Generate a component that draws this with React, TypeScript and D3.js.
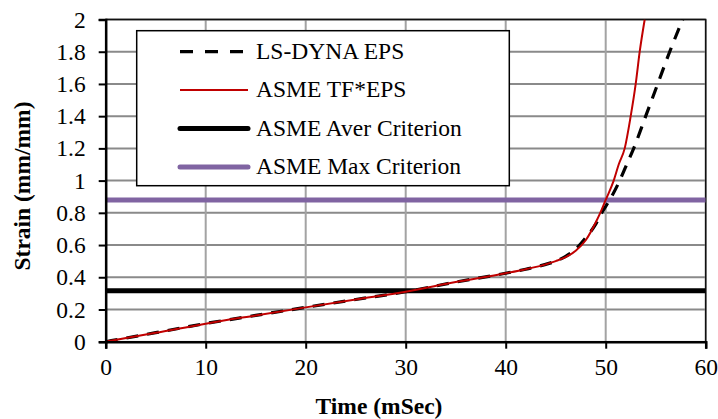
import React, { useEffect, useRef } from "react";
import * as d3 from "d3";

// time in mSec, strain in mm/mm
const lsDynaTime = [0, 5, 10, 15, 20, 25, 30, 35, 40, 42, 44, 45, 46, 47, 48, 49, 49.6, 50.4, 51.4, 52.1, 52.8, 54.0, 55.2, 56.4, 57.7];
const lsDynaStrain = [0, 0.056, 0.113, 0.163, 0.213, 0.262, 0.31, 0.37, 0.425, 0.45, 0.48, 0.5, 0.53, 0.575, 0.645, 0.73, 0.8, 0.88, 1.0, 1.1, 1.2, 1.4, 1.6, 1.8, 2.0];

const asmeTime = [0, 5, 10, 15, 20, 25, 30, 35, 40, 42, 44, 45, 46, 47, 48, 49, 49.6, 50, 50.8, 51.3, 51.9, 52.5, 53.0, 53.4, 53.9];
const asmeStrain = [0, 0.055, 0.112, 0.163, 0.213, 0.262, 0.31, 0.37, 0.425, 0.45, 0.48, 0.5, 0.525, 0.565, 0.63, 0.74, 0.82, 0.88, 1.0, 1.1, 1.2, 1.4, 1.6, 1.8, 2.0];

const averCriterion = 0.316;
const maxCriterion = 0.88;

const xTicks = [0, 10, 20, 30, 40, 50, 60];
const yTicks = [0, 0.2, 0.4, 0.6, 0.8, 1, 1.2, 1.4, 1.6, 1.8, 2];

const legendNames = ["LS-DYNA EPS", "ASME TF*EPS", "ASME Aver Criterion", "ASME Max Criterion"];

const W = 718, H = 419;
const FONT = "'Liberation Serif', 'Times New Roman', serif";

export default function App() {
    const ref = useRef<SVGSVGElement>(null);

    useEffect(() => {
        const svg = d3.select(ref.current);
        svg.selectAll("*").remove();

        const margin = { top: 19.5, right: 12.3, bottom: 77.3, left: 105.7 };
        const width = W - margin.left - margin.right,
            height = H - margin.top - margin.bottom;

        const x = d3.scaleLinear().domain([0, 60]).range([0, width]);
        const y = d3.scaleLinear().domain([0, 2]).range([height, 0]);

        svg.append("defs").append("clipPath").attr("id", "plotclip")
            .append("rect").attr("width", width).attr("height", height);

        const g = svg.append("g")
            .attr("transform", "translate(" + margin.left + "," + margin.top + ")");

        // grid
        g.append("g").selectAll("line").data(yTicks.slice(1)).enter().append("line")
            .attr("x1", 0).attr("x2", width)
            .attr("y1", d => y(d)).attr("y2", d => y(d))
            .attr("stroke", "#8a8a8a").attr("stroke-width", 2);
        g.append("g").selectAll("line").data(xTicks.slice(1)).enter().append("line")
            .attr("x1", d => x(d)).attr("x2", d => x(d))
            .attr("y1", 0).attr("y2", height)
            .attr("stroke", "#a3a3a3").attr("stroke-width", 2);

        // plot border
        g.append("rect").attr("width", width).attr("height", height)
            .attr("fill", "none").attr("stroke", "#111").attr("stroke-width", 1.5);

        const plot = g.append("g").attr("clip-path", "url(#plotclip)");

        // criteria
        plot.append("line").attr("x1", 0).attr("x2", width)
            .attr("y1", y(maxCriterion)).attr("y2", y(maxCriterion))
            .attr("stroke", "#8064a2").attr("stroke-width", 5);
        plot.append("line").attr("x1", 0).attr("x2", width)
            .attr("y1", y(averCriterion)).attr("y2", y(averCriterion))
            .attr("stroke", "#000").attr("stroke-width", 5);

        const line = d3.line<number>()
            .x(d => x(d))
            .curve(d3.curveMonotoneX);

        plot.append("path")
            .attr("d", line.y((_, i) => y(lsDynaStrain[i]))(lsDynaTime))
            .attr("fill", "none").attr("stroke", "#000").attr("stroke-width", 3.2)
            .attr("stroke-dasharray", "12,9");

        plot.append("path")
            .attr("d", line.y((_, i) => y(asmeStrain[i]))(asmeTime))
            .attr("fill", "none").attr("stroke", "#c00000").attr("stroke-width", 2);

        // axes
        const xAxis = g.append("g").attr("transform", "translate(0," + height + ")")
            .call(d3.axisBottom(x).tickValues(xTicks).tickSize(7).tickPadding(10));
        const yAxis = g.append("g")
            .call(d3.axisLeft(y).tickValues(yTicks).tickSize(7).tickPadding(13).tickFormat(d3.format("")));
        [xAxis, yAxis].forEach(a => {
            a.select(".domain").attr("stroke", "#000").attr("stroke-width", 2.5);
            a.selectAll(".tick line").attr("stroke", "#000").attr("stroke-width", 2);
            a.selectAll(".tick text").attr("font-family", FONT).attr("font-size", 23.5).attr("fill", "#000");
        });
        xAxis.selectAll(".tick text").attr("dy", "0.71em");

        // titles
        svg.append("text")
            .attr("x", 379).attr("y", 414)
            .attr("text-anchor", "middle")
            .attr("font-family", FONT).attr("font-size", 23.5).attr("font-weight", "bold")
            .text("Time (mSec)");
        svg.append("text")
            .attr("transform", "translate(30,186) rotate(-90)")
            .attr("text-anchor", "middle")
            .attr("font-family", FONT).attr("font-size", 23.5).attr("font-weight", "bold")
            .text("Strain (mm/mm)");

        // legend
        const lg = svg.append("g");
        lg.append("rect").attr("x", 136.7).attr("y", 30.7).attr("width", 372.6).attr("height", 155)
            .attr("fill", "#fff").attr("stroke", "#000").attr("stroke-width", 1.5);
        const styles = [
            { stroke: "#000", w: 3.2, dash: "13,12", cap: "butt" },
            { stroke: "#c00000", w: 2, dash: null, cap: "butt" },
            { stroke: "#000", w: 5, dash: null, cap: "round" },
            { stroke: "#8064a2", w: 5, dash: null, cap: "round" },
        ];
        legendNames.forEach((name, i) => {
            const cy = 51.7 + i * 38.4;
            const s = styles[i];
            lg.append("line").attr("x1", 180).attr("x2", 248).attr("y1", cy).attr("y2", cy)
                .attr("stroke", s.stroke).attr("stroke-width", s.w)
                .attr("stroke-dasharray", s.dash).attr("stroke-linecap", s.cap);
            lg.append("text").attr("x", 256).attr("y", cy + 7)
                .attr("font-family", FONT).attr("font-size", 23.5)
                .text(name);
        });
    }, []);

    return (
        <svg ref={ref} width={W} height={H}
            style={{ position: "absolute", left: 0, top: 0, background: "#fff" }} />
    );
}
